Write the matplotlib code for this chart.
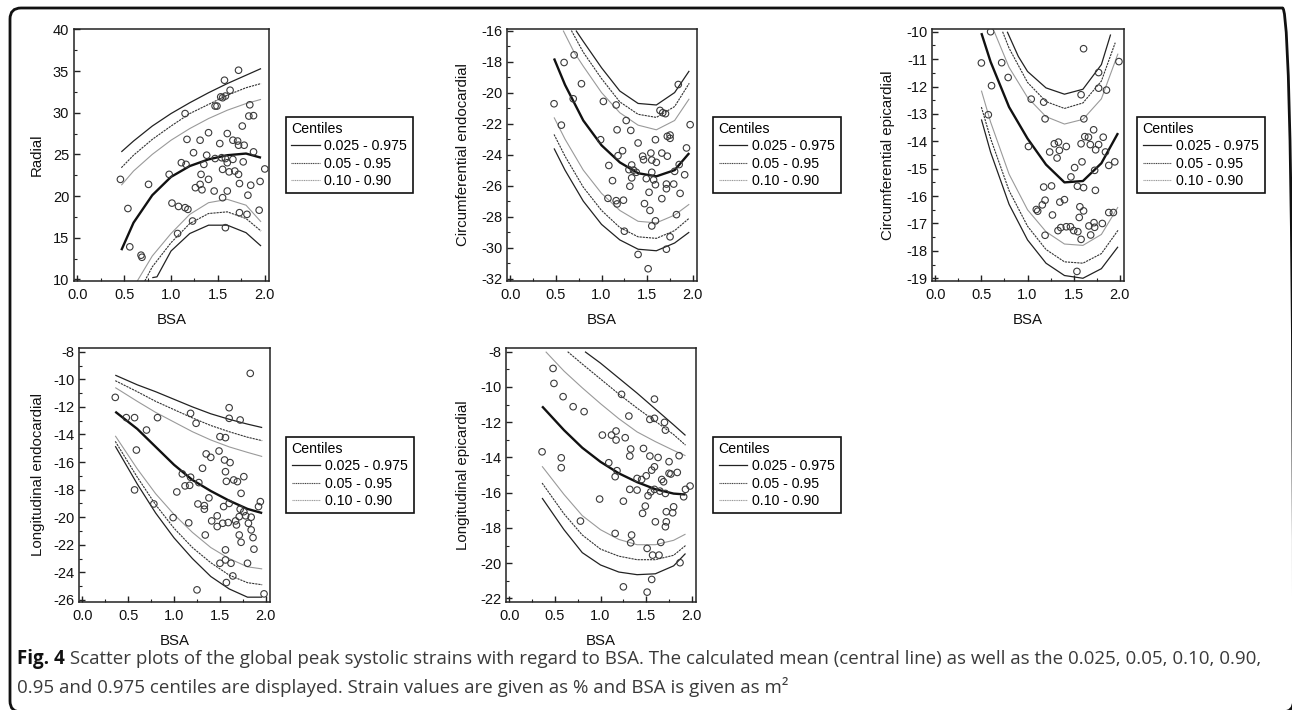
import matplotlib
matplotlib.use("Agg")
import matplotlib.pyplot as plt
from matplotlib.lines import Line2D
from matplotlib.patches import FancyBboxPatch
from matplotlib.transforms import IdentityTransform
from matplotlib.ticker import MultipleLocator, AutoMinorLocator

W, H, DPI = 1292, 710, 100
plt.rcParams['font.family'] = ['Liberation Sans', 'DejaVu Sans']
plt.rcParams['axes.unicode_minus'] = False

# ---------------------------------------------------------------- data
centile_labels = ["0.025 - 0.975", "0.05 - 0.95", "0.10 - 0.90"]
x_ticks = [0.0, 0.5, 1.0, 1.5, 2.0]

# Panel 1: Radial
radial_bsa = [0.46, 0.54, 0.56, 0.68, 0.69, 0.76, 0.98, 1.01, 1.08, 1.15, 1.18, 1.11, 1.16, 1.15,
              1.17, 1.07, 1.23, 1.24, 1.31, 1.26, 1.31, 1.32, 1.33, 1.35, 1.38, 1.40, 1.40, 1.46,
              1.47, 1.47, 1.49, 1.52, 1.53, 1.57, 1.55, 1.58, 1.54, 1.55, 1.55, 1.58, 1.60, 1.60,
              1.60, 1.62, 1.63, 1.66, 1.66, 1.68, 1.71, 1.72, 1.72, 1.72, 1.73, 1.73, 1.76, 1.77,
              1.78, 1.82, 1.81, 1.83, 1.84, 1.85, 1.88, 1.88, 1.94, 1.95, 2.00, 1.58]
radial_strain = [22.0, 18.5, 13.9, 12.9, 12.65, 21.4, 22.6, 19.15, 18.75, 18.6, 18.4, 24.0, 23.8, 29.9,
                 26.8, 15.5, 17.0, 25.2, 26.7, 21.0, 21.4, 22.6, 20.75, 23.8, 24.9, 27.6, 22.0, 20.6,
                 24.5, 30.8, 30.8, 26.3, 31.9, 33.9, 31.8, 32.0, 24.6, 23.2, 19.8, 24.5, 27.5, 24.0,
                 20.6, 22.9, 32.7, 24.4, 26.7, 23.0, 26.6, 35.1, 22.6, 26.1, 21.5, 18.0, 28.4, 24.1,
                 26.1, 20.1, 17.8, 29.6, 30.95, 21.3, 25.3, 29.65, 18.3, 21.75, 23.25, 16.2]
radial_grid = [0.47, 0.6, 0.8, 1.0, 1.2, 1.4, 1.6, 1.8, 1.96]
radial_mean = [13.5, 16.8, 20.1, 22.3, 23.6, 24.4, 24.9, 25.1, 24.6]
radial_p975 = [25.3, 26.6, 28.4, 29.9, 31.2, 32.4, 33.5, 34.5, 35.3]
radial_p95 = [23.4, 24.9, 26.8, 28.4, 29.9, 31.0, 32.1, 33.0, 33.5]
radial_p90 = [21.3, 23.0, 25.0, 26.7, 28.1, 29.3, 30.3, 31.1, 31.6]
radial_p10_x = [0.64, 0.8, 1.0, 1.2, 1.4, 1.6, 1.8, 1.96]
radial_p10 = [9.8, 12.8, 15.5, 17.8, 19.2, 19.6, 18.9, 16.9]
radial_p05_x = [0.72, 0.8, 1.0, 1.2, 1.4, 1.6, 1.8, 1.96]
radial_p05 = [9.8, 11.5, 14.4, 16.7, 17.9, 18.1, 17.3, 15.8]
radial_p025_x = [0.80, 0.85, 1.0, 1.2, 1.4, 1.6, 1.8, 1.96]
radial_p025 = [10.2, 10.3, 13.4, 15.5, 16.5, 16.5, 15.6, 14.0]

# Panel 2: Circumferential endocardial
cendo_bsa = [0.48, 0.56, 0.59, 0.70, 0.69, 0.78, 0.99, 1.02, 1.08, 1.12, 1.07, 1.16, 1.16, 1.17,
             1.17, 1.18, 1.23, 1.24, 1.25, 1.27, 1.30, 1.31, 1.32, 1.33, 1.33, 1.35, 1.38, 1.40,
             1.40, 1.45, 1.46, 1.47, 1.49, 1.51, 1.52, 1.53, 1.54, 1.55, 1.55, 1.55, 1.57, 1.59,
             1.59, 1.59, 1.60, 1.64, 1.66, 1.66, 1.67, 1.70, 1.71, 1.71, 1.71, 1.72, 1.72, 1.75,
             1.75, 1.75, 1.79, 1.80, 1.82, 1.84, 1.85, 1.86, 1.91, 1.93, 1.97]
cendo_strain = [-20.72, -22.1, -18.06, -17.57, -20.4, -19.43, -23.04, -20.57, -24.7, -25.68, -26.82,
                -20.8, -26.97, -27.18, -22.4, -24.07, -23.75, -26.94, -28.94, -21.8, -24.97, -26.04,
                -22.44, -24.67, -25.5, -25.0, -25.14, -23.25, -30.44, -24.1, -24.33, -27.16, -25.55,
                -31.36, -26.43, -27.6, -23.9, -24.35, -25.14, -28.6, -25.63, -25.94, -28.27, -23.04,
                -24.5, -21.15, -23.9, -26.84, -21.3, -21.36, -25.9, -26.2, -30.1, -24.1, -22.82,
                -22.74, -22.95, -29.3, -25.9, -25.08, -27.87, -19.48, -24.64, -26.5, -25.3, -23.57,
                -22.07]
cendo_grid = [0.48, 0.6, 0.8, 1.0, 1.2, 1.4, 1.6, 1.8, 1.96]
cendo_mean = [-17.8, -19.5, -21.8, -23.4, -24.5, -25.2, -25.4, -25.0, -23.9]
cendo_p975_x = [0.72, 0.8, 1.0, 1.2, 1.4, 1.6, 1.8, 1.96]
cendo_p975 = [-16.0, -16.7, -18.4, -19.9, -20.7, -20.8, -20.0, -18.6]
cendo_p95_x = [0.67, 0.8, 1.0, 1.2, 1.4, 1.6, 1.8, 1.96]
cendo_p95 = [-16.0, -17.4, -19.1, -20.6, -21.4, -21.6, -20.9, -19.4]
cendo_p90_x = [0.58, 0.7, 0.8, 1.0, 1.2, 1.4, 1.6, 1.8, 1.96]
cendo_p90 = [-16.0, -17.4, -18.3, -20.0, -21.3, -22.1, -22.4, -21.8, -20.4]
cendo_p10 = [-21.6, -23.0, -25.0, -26.5, -27.6, -28.3, -28.4, -27.9, -27.2]
cendo_p05 = [-22.7, -24.1, -26.1, -27.6, -28.7, -29.3, -29.4, -28.9, -28.1]
cendo_p025 = [-23.6, -25.0, -27.0, -28.5, -29.5, -30.1, -30.2, -29.7, -29.0]

# Panel 3: Circumferential epicardial
cepi_bsa = [0.50, 0.60, 0.575, 0.72, 0.61, 0.79, 1.01, 1.04, 1.175, 1.19, 1.175, 1.26, 1.19, 1.16,
            1.095, 1.11, 1.19, 1.24, 1.29, 1.335, 1.345, 1.32, 1.42, 1.27, 1.35, 1.40, 1.36, 1.42,
            1.465, 1.50, 1.33, 1.47, 1.51, 1.54, 1.545, 1.56, 1.567, 1.58, 1.58, 1.58, 1.607,
            1.607, 1.607, 1.59, 1.61, 1.62, 1.66, 1.68, 1.665, 1.684, 1.716, 1.72, 1.727, 1.727,
            1.738, 1.735, 1.77, 1.77, 1.77, 1.82, 1.81, 1.855, 1.88, 1.88, 1.93, 1.945, 1.99, 1.844,
            1.535]
cepi_strain = [-11.14, -10.0, -13.03, -11.13, -11.97, -11.67, -14.19, -12.46, -12.57, -13.18, -15.67,
               -15.63, -16.15, -16.32, -16.49, -16.55, -17.43, -14.39, -14.09, -14.03, -14.33, -14.61,
               -14.19, -16.69, -16.22, -16.13, -17.15, -17.12, -17.12, -17.26, -17.26, -15.30, -14.96,
               -15.64, -17.30, -16.78, -16.39, -14.09, -12.30, -17.58, -16.54, -10.62, -15.69, -14.75,
               -13.18, -13.83, -13.85, -14.12, -17.09, -17.42, -13.58, -16.97, -17.14, -15.06, -14.31,
               -15.79, -14.12, -11.49, -12.06, -13.85, -17.0, -12.13, -14.88, -16.6, -16.6, -14.75,
               -11.09, -14.39, -18.75]
cepi_grid = [0.50, 0.6, 0.8, 1.0, 1.2, 1.4, 1.6, 1.8, 1.98]
cepi_mean = [-10.05, -11.1, -12.75, -13.9, -14.85, -15.5, -15.45, -14.8, -13.7]
cepi_p975_x = [0.78, 0.9, 1.0, 1.2, 1.4, 1.6, 1.8, 1.9]
cepi_p975 = [-10.0, -10.9, -11.45, -12.05, -12.28, -12.1, -11.2, -10.1]
cepi_p95_x = [0.73, 0.8, 1.0, 1.2, 1.4, 1.6, 1.8, 1.95]
cepi_p95 = [-10.0, -10.6, -11.85, -12.55, -12.8, -12.6, -11.8, -10.4]
cepi_p90_x = [0.64, 0.8, 1.0, 1.2, 1.4, 1.6, 1.8, 1.98]
cepi_p90 = [-10.0, -11.3, -12.4, -13.1, -13.37, -13.2, -12.45, -10.8]
cepi_p10 = [-12.15, -13.3, -15.2, -16.5, -17.3, -17.75, -17.8, -17.4, -16.4]
cepi_p05 = [-12.75, -13.9, -15.8, -17.1, -17.95, -18.4, -18.45, -18.1, -17.25]
cepi_p025 = [-13.2, -14.4, -16.3, -17.6, -18.45, -18.9, -19.0, -18.65, -17.85]

# Panel 4: Longitudinal endocardial
lendo_bsa = [0.36, 0.48, 0.57, 0.59, 0.57, 0.70, 0.78, 0.82, 0.99, 1.03, 1.09, 1.12, 1.16, 1.18,
             1.18, 1.17, 1.24, 1.25, 1.27, 1.26, 1.31, 1.33, 1.33, 1.34, 1.35, 1.38, 1.40, 1.41,
             1.47, 1.49, 1.47, 1.50, 1.53, 1.54, 1.50, 1.56, 1.55, 1.56, 1.57, 1.56, 1.56, 1.57,
             1.60, 1.60, 1.59, 1.61, 1.60, 1.62, 1.64, 1.65, 1.69, 1.67, 1.68, 1.71, 1.71, 1.72,
             1.72, 1.73, 1.73, 1.76, 1.76, 1.78, 1.80, 1.81, 1.83, 1.84, 1.84, 1.86, 1.87, 1.92,
             1.94, 1.98]
lendo_strain = [-11.31, -12.78, -12.78, -15.13, -18.02, -13.68, -19.04, -12.78, -20.03, -18.17,
                -16.86, -17.73, -20.41, -12.47, -17.1, -17.69, -13.19, -25.27, -17.49, -19.04,
                -16.45, -19.16, -19.42, -21.29, -15.41, -18.6, -15.66, -20.27, -20.68, -15.2, -19.9,
                -23.34, -20.44, -19.23, -14.16, -14.23, -15.85, -16.7, -17.4, -22.37, -23.1, -24.74,
                -12.06, -12.83, -20.39, -16.04, -19.0, -23.34, -24.26, -17.3, -17.42, -20.27, -20.56,
                -19.96, -21.29, -12.95, -19.42, -21.82, -18.27, -17.06, -19.6, -19.9, -23.34, -20.44,
                -9.57, -20.92, -20.0, -21.48, -22.32, -19.23, -18.87, -25.56]
lendo_grid = [0.36, 0.6, 0.8, 1.0, 1.2, 1.4, 1.6, 1.8, 1.96]
lendo_mean = [-12.35, -13.6, -14.9, -16.2, -17.3, -18.1, -18.8, -19.4, -19.7]
lendo_p975 = [-9.7, -10.4, -10.9, -11.45, -12.0, -12.5, -12.9, -13.25, -13.5]
lendo_p95 = [-10.1, -10.9, -11.6, -12.2, -12.8, -13.35, -13.8, -14.2, -14.45]
lendo_p90 = [-10.6, -11.6, -12.4, -13.1, -13.8, -14.4, -14.9, -15.3, -15.6]
lendo_p10 = [-14.1, -16.5, -18.3, -19.8, -21.1, -22.2, -23.0, -23.6, -23.75]
lendo_p05 = [-14.5, -17.1, -19.1, -20.8, -22.2, -23.3, -24.2, -24.75, -24.9]
lendo_p025 = [-14.85, -17.6, -19.7, -21.5, -23.0, -24.3, -25.2, -25.8, -25.8]

# Panel 5: Longitudinal epicardial
lepi_bsa = [0.36, 0.48, 0.49, 0.57, 0.57, 0.59, 0.70, 0.78, 0.82, 0.99, 1.02, 1.09, 1.12, 1.17,
            1.17, 1.18, 1.16, 1.16, 1.23, 1.25, 1.25, 1.27, 1.31, 1.32, 1.33, 1.32, 1.33, 1.34,
            1.40, 1.40, 1.45, 1.46, 1.47, 1.49, 1.50, 1.51, 1.52, 1.54, 1.54, 1.55, 1.56, 1.56,
            1.57, 1.51, 1.59, 1.59, 1.59, 1.59, 1.60, 1.63, 1.64, 1.65, 1.66, 1.67, 1.69, 1.70,
            1.71, 1.71, 1.71, 1.72, 1.72, 1.75, 1.75, 1.77, 1.79, 1.80, 1.84, 1.86, 1.87, 1.91,
            1.93, 1.98]
lepi_strain = [-13.68, -8.95, -9.8, -14.02, -14.58, -10.55, -11.12, -17.61, -11.4, -16.36, -12.73,
               -14.3, -12.73, -13.01, -12.5, -14.75, -15.09, -18.31, -10.42, -21.34, -16.48, -12.88,
               -11.65, -13.92, -13.52, -15.81, -18.84, -18.4, -15.19, -15.85, -15.25, -17.17, -13.49,
               -16.76, -15.04, -19.16, -16.17, -13.92, -11.84, -15.95, -20.92, -14.72, -19.54,
               -21.64, -11.78, -10.69, -14.53, -15.81, -17.65, -14.0, -19.54, -15.91, -18.82, -15.25,
               -15.38, -12.01, -12.45, -16.04, -17.93, -17.65, -17.08, -14.24, -14.9, -14.94, -17.14,
               -16.8, -14.85, -13.9, -19.97, -16.23, -15.81, -15.62]
lepi_grid = [0.36, 0.6, 0.8, 1.0, 1.2, 1.4, 1.6, 1.8, 1.93]
lepi_mean = [-11.1, -12.45, -13.45, -14.25, -14.9, -15.4, -15.8, -16.05, -16.1]
lepi_p975_x = [0.83, 1.0, 1.2, 1.4, 1.6, 1.8, 1.93]
lepi_p975 = [-8.0, -8.65, -9.5, -10.35, -11.25, -12.15, -12.75]
lepi_p95_x = [0.64, 0.8, 1.0, 1.2, 1.4, 1.6, 1.8, 1.93]
lepi_p95 = [-8.0, -8.7, -9.55, -10.4, -11.2, -11.95, -12.7, -13.3]
lepi_p90_x = [0.40, 0.6, 0.8, 1.0, 1.2, 1.4, 1.6, 1.8, 1.93]
lepi_p90 = [-8.0, -9.1, -10.05, -10.95, -11.8, -12.55, -13.1, -13.6, -13.9]
lepi_p10 = [-14.5, -16.1, -17.3, -18.1, -18.65, -18.95, -18.95, -18.7, -18.35]
lepi_p05 = [-15.45, -17.2, -18.4, -19.2, -19.6, -19.8, -19.8, -19.55, -19.0]
lepi_p025 = [-16.3, -18.1, -19.4, -20.1, -20.5, -20.65, -20.6, -20.15, -19.45]

caption_bold = "Fig. 4"
caption_line1 = (" Scatter plots of the global peak systolic strains with regard to BSA. The calculated "
                 "mean (central line) as well as the 0.025, 0.05, 0.10, 0.90,")
caption_line2 = "0.95 and 0.975 centiles are displayed. Strain values are given as % and BSA is given as m\u00b2"

# ---------------------------------------------------------------- styles
STY_MEAN = dict(color='#111111', lw=1.7, ls='-')
STY_025 = dict(color='#222222', lw=0.9, ls='-')
STY_05 = dict(color='#333333', lw=0.8, ls=(0, (2.0, 0.8)))
STY_10 = dict(color='#9a9a9a', lw=0.8, ls='-')

fig = plt.figure(figsize=(W / DPI, H / DPI), dpi=DPI)

# outer rounded frame, in display pixels (origin bottom-left)
frame = FancyBboxPatch((10, H - 712), 1293.5 - 10, 712 - 8,
                       boxstyle="round,pad=0,rounding_size=11",
                       transform=IdentityTransform(), fill=False, ec='#111111', lw=2.0,
                       clip_on=False)
fig.patches.append(frame)


def px_rect(l, t, r, b):
    return [l / W, 1 - b / H, (r - l) / W, (b - t) / H]


def panel(rect, ylim, ystep, ylabel, ylabel_x, data_x, data_y, curves, leg_left):
    ax = fig.add_axes(px_rect(*rect))
    for (cx, cy, sty) in curves:
        ax.plot(cx, cy, **sty, solid_capstyle='butt', zorder=2)
    ax.scatter(data_x, data_y, s=22, facecolors='none', edgecolors='#3a3a3a',
               linewidths=0.8, zorder=3)
    ax.set_xlim(-0.035, 2.045)
    ax.set_ylim(*ylim)
    ax.set_xticks(x_ticks)
    ax.set_xticklabels([f"{t:.1f}" for t in x_ticks])
    ax.yaxis.set_major_locator(MultipleLocator(ystep))
    ax.yaxis.set_minor_locator(AutoMinorLocator(2))
    ax.xaxis.set_minor_locator(AutoMinorLocator(2))
    ax.tick_params(which='major', direction='in', length=4, width=1.0, color='#222222',
                   labelsize=10.5, labelcolor='#111111', pad=3.5)
    ax.tick_params(which='minor', direction='in', length=2.2, width=0.8, color='#222222')
    ax.tick_params(axis='x', which='major', pad=5)
    for s in ax.spines.values():
        s.set_color('#222222')
        s.set_linewidth(1.1)
    # labels
    l, t, r, b = rect
    fig.text(ylabel_x / W, 1 - ((t + b) / 2) / H, ylabel, rotation=90, ha='center', va='center',
             fontsize=10.8, color='#111111')
    fig.text(((l + r) / 2) / W, 1 - (b + 39) / H, "BSA", ha='center', va='center',
             fontsize=10.8, color='#111111')
    # legend
    handles = [Line2D([], [], **STY_025),
               Line2D([], [], color='#444444', lw=0.8, ls=(0, (1, 0.6))),
               Line2D([], [], color='#999999', lw=0.8, ls=(0, (1, 0.6)))]
    leg = ax.legend(handles, centile_labels, title="Centiles", loc='center left',
                    bbox_to_anchor=(leg_left / W, 1 - ((t + b) / 2) / H),
                    bbox_transform=fig.transFigure, frameon=True, fancybox=False,
                    shadow=False, fontsize=10.2, title_fontsize=10.2, alignment='left',
                    handlelength=2.0, handletextpad=0.35, labelspacing=0.22,
                    borderpad=0.4, borderaxespad=0, framealpha=1)
    leg.get_frame().set_edgecolor('#111111')
    leg.get_frame().set_linewidth(1.2)
    return ax


panel((74, 29, 269, 281), (9.8, 40.05), 5, "Radial", 37, radial_bsa, radial_strain,
      [(radial_p10_x, radial_p10, STY_10), (radial_grid, radial_p90, STY_10),
       (radial_p05_x, radial_p05, STY_05), (radial_grid, radial_p95, STY_05),
       (radial_p025_x, radial_p025, STY_025), (radial_grid, radial_p975, STY_025),
       (radial_grid, radial_mean, STY_MEAN)], 285.5)

panel((507, 29, 697, 281), (-32.15, -15.9), 2, "Circumferential endocardial", 463,
      cendo_bsa, cendo_strain,
      [(cendo_grid, cendo_p10, STY_10), (cendo_p90_x, cendo_p90, STY_10),
       (cendo_grid, cendo_p05, STY_05), (cendo_p95_x, cendo_p95, STY_05),
       (cendo_grid, cendo_p025, STY_025), (cendo_p975_x, cendo_p975, STY_025),
       (cendo_grid, cendo_mean, STY_MEAN)], 713)

panel((932, 29, 1124, 281), (-19.1, -9.9), 1, "Circumferential epicardial", 888,
      cepi_bsa, cepi_strain,
      [(cepi_grid, cepi_p10, STY_10), (cepi_p90_x, cepi_p90, STY_10),
       (cepi_grid, cepi_p05, STY_05), (cepi_p95_x, cepi_p95, STY_05),
       (cepi_grid, cepi_p025, STY_025), (cepi_p975_x, cepi_p975, STY_025),
       (cepi_grid, cepi_mean, STY_MEAN)], 1137)

panel((79, 348, 270, 602), (-26.15, -7.73), 2, "Longitudinal endocardial", 38,
      lendo_bsa, lendo_strain,
      [(lendo_grid, lendo_p10, STY_10), (lendo_grid, lendo_p90, STY_10),
       (lendo_grid, lendo_p05, STY_05), (lendo_grid, lendo_p95, STY_05),
       (lendo_grid, lendo_p025, STY_025), (lendo_grid, lendo_p975, STY_025),
       (lendo_grid, lendo_mean, STY_MEAN)], 286)

panel((506, 348, 696, 602), (-22.2, -7.79), 2, "Longitudinal epicardial", 463,
      lepi_bsa, lepi_strain,
      [(lepi_grid, lepi_p10, STY_10), (lepi_p90_x, lepi_p90, STY_10),
       (lepi_grid, lepi_p05, STY_05), (lepi_p95_x, lepi_p95, STY_05),
       (lepi_grid, lepi_p025, STY_025), (lepi_p975_x, lepi_p975, STY_025),
       (lepi_grid, lepi_mean, STY_MEAN)], 713)

# ---------------------------------------------------------------- caption
cap_font = ['Open Sans', 'DejaVu Sans']
y1 = 1 - 659 / H
y2 = 1 - 687 / H
x0 = 17 / W
target_right = 1262.0
fig.canvas.draw()
rend = fig.canvas.get_renderer()


def caption_width(size):
    a = fig.text(x0, y1, caption_bold, family=cap_font, fontsize=size, fontweight='bold')
    wa = a.get_window_extent(rend).width
    b = fig.text(x0, y1, caption_line1, family=cap_font, fontsize=size)
    wb = b.get_window_extent(rend).width
    a.remove()
    b.remove()
    return wa + wb


base = 12.0
cap_size = base * (target_right - 17) / caption_width(base)
tb = fig.text(x0, y1, caption_bold, family=cap_font, fontsize=cap_size, fontweight='bold',
              color='#111111', ha='left', va='center')
bb = tb.get_window_extent(rend)
fig.text(bb.x1 / W, y1, caption_line1, family=cap_font, fontsize=cap_size, color='#3a3a3a',
         ha='left', va='center')
fig.text(x0, y2, caption_line2, family=cap_font, fontsize=cap_size, color='#3a3a3a',
         ha='left', va='center')

fig.savefig("out.png", dpi=DPI)
